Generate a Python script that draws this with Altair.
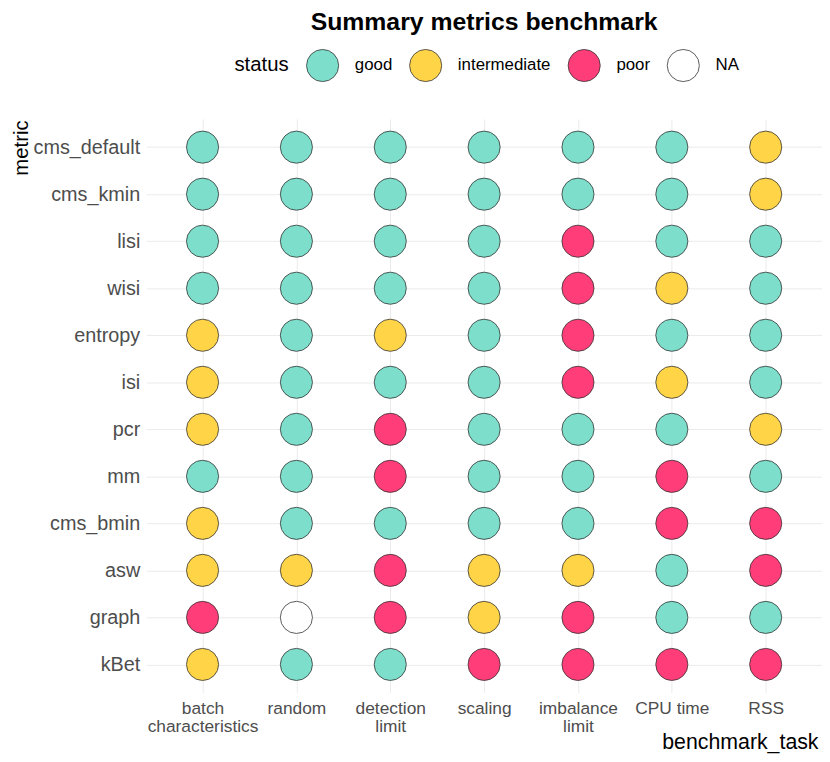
import altair as alt
import pandas as pd

metrics = ["cms_default", "cms_kmin", "lisi", "wisi", "entropy", "isi", "pcr",
           "mm", "cms_bmin", "asw", "graph", "kBet"]
tasks = ["batch\ncharacteristics", "random", "detection\nlimit", "scaling",
         "imbalance\nlimit", "CPU time", "RSS"]
status_levels = ["good", "intermediate", "poor", "NA"]
status_colors = ["#7DDFCB", "#FFD447", "#FF3D78", "#FFFFFF"]

# one list per metric, in task order
status_rows = {
    "cms_default": ["good", "good", "good", "good", "good", "good", "intermediate"],
    "cms_kmin":    ["good", "good", "good", "good", "good", "good", "intermediate"],
    "lisi":        ["good", "good", "good", "good", "poor", "good", "good"],
    "wisi":        ["good", "good", "good", "good", "poor", "intermediate", "good"],
    "entropy":     ["intermediate", "good", "intermediate", "good", "poor", "good", "good"],
    "isi":         ["intermediate", "good", "good", "good", "poor", "intermediate", "good"],
    "pcr":         ["intermediate", "good", "poor", "good", "good", "good", "intermediate"],
    "mm":          ["good", "good", "poor", "good", "good", "poor", "good"],
    "cms_bmin":    ["intermediate", "good", "good", "good", "good", "poor", "poor"],
    "asw":         ["intermediate", "intermediate", "poor", "intermediate", "intermediate", "good", "poor"],
    "graph":       ["poor", "NA", "poor", "intermediate", "poor", "good", "good"],
    "kBet":        ["intermediate", "good", "good", "poor", "poor", "poor", "poor"],
}

records = []
for m in metrics:
    for t, s in zip(tasks, status_rows[m]):
        records.append({"metric": m, "benchmark_task": t, "status": s})
df = pd.DataFrame(records)

FONT = "Liberation Sans"
PLOT_W, PLOT_H = 682, 579

chart = alt.Chart(df).mark_point(
    filled=True, shape="circle", size=1050, opacity=1,
    stroke="#333333", strokeWidth=0.8
).encode(
    x=alt.X("benchmark_task:N", sort=tasks,
            scale=alt.Scale(type="point", padding=0.6),
            axis=alt.Axis(title="benchmark_task", labelAngle=0,
                          labelExpr="split(datum.label, '\\n')",
                          labelFontSize=17.5, labelLineHeight=18.5,
                          labelColor="#4D4D4D", labelPadding=7,
                          labelBaseline="top",
                          titleFontSize=21.5, titleFontWeight="normal",
                          titleColor="#000000",
                          titleAnchor="end", titleAlign="right",
                          titleBaseline="alphabetic",
                          titleX=PLOT_W - 4, titleY=56.5,
                          ticks=False, tickSize=0, domain=False,
                          grid=True, gridColor="#EBEBEB", gridWidth=1)),
    y=alt.Y("metric:N", sort=metrics,
            scale=alt.Scale(type="point", padding=0.6),
            axis=alt.Axis(title="metric",
                          labelFontSize=20, labelColor="#4D4D4D",
                          labelPadding=6.5,
                          titleFontSize=20.5, titleFontWeight="normal",
                          titleColor="#000000",
                          titleAngle=270, titleAlign="right",
                          titleBaseline="alphabetic",
                          titleX=-120, titleY=1,
                          ticks=False, tickSize=0, domain=False,
                          grid=True, gridColor="#EBEBEB", gridWidth=1)),
    fill=alt.Fill("status:N",
                  scale=alt.Scale(domain=status_levels, range=status_colors),
                  legend=alt.Legend(
                      title="status", orient="none",
                      legendX=89, legendY=-71,
                      direction="horizontal", titleOrient="left",
                      symbolType="circle", symbolSize=1050,
                      symbolStrokeColor="#333333", symbolStrokeWidth=0.8,
                      symbolOpacity=1,
                      labelFontSize=17, labelColor="#000000",
                      labelOffset=15.5, columnPadding=15,
                      titleFontSize=20.5, titleFontWeight="normal",
                      titleColor="#000000", titlePadding=17,
                      titleBaseline="middle", padding=0)),
).properties(
    width=PLOT_W, height=PLOT_H,
    title=alt.TitleParams("Summary metrics benchmark", anchor="middle",
                          frame="group", fontSize=25, fontWeight="bold",
                          font=FONT, color="#000000", offset=14),
    autosize=alt.AutoSizeParams(type="none"),
    padding={"left": 139.5, "top": 108.5, "right": 0, "bottom": 62},
).configure(
    font=FONT,
).configure_view(
    stroke=None,
)

chart.save("out.html", embed_options={"renderer": "svg", "actions": False})
